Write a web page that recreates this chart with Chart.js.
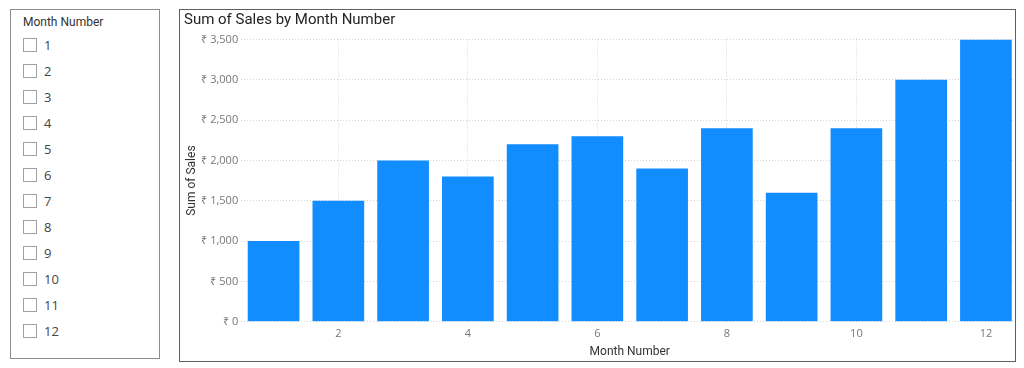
<!DOCTYPE html>
<html>
<head>
<meta charset="utf-8">
<script src="https://cdn.jsdelivr.net/npm/chart.js@4.4.0/dist/chart.umd.min.js"></script>
<style>
  html, body { margin: 0; padding: 0; background: #fff; }
  body { width: 1024px; height: 368px; position: relative; overflow: hidden; }
  #slicer { position: absolute; left: 10px; top: 9px; width: 148px; height: 348px; border: 1px solid #8c8c8c; font-family: "Open Sans", "Noto Sans", sans-serif; color: #252423; }
  #slicer .hdr { position: absolute; left: 12px; top: 5px; font-family: Roboto, sans-serif; font-size: 12px; color: #333; }
  #slicer .item { position: absolute; left: 12px; height: 16px; font-size: 13px; line-height: 16px; color: #444; }
  #slicer .box { position: absolute; left: 0; top: 1px; width: 12px; height: 12px; border: 1px solid #a0a0a0; background: #fff; }
  #slicer .lbl { position: absolute; left: 21px; top: 0; }
  #chartbox { position: absolute; left: 179px; top: 9px; width: 835px; height: 351px; border: 1px solid #606060; overflow: hidden; }
  #title { position: absolute; left: 4px; top: 0px; font-family: Roboto, sans-serif; font-size: 15px; color: #252423; white-space: nowrap; }
  #cv { position: absolute; left: 0; top: 0; }
</style>
</head>
<body>
<div id="slicer"><div class="hdr">Month Number</div></div>
<div id="chartbox">
  <canvas id="cv" width="842" height="351"></canvas>
  <div id="title">Sum of Sales by Month Number</div>
</div>
<script>
const months = ['1','2','3','4','5','6','7','8','9','10','11','12'];
const sales = [1000, 1500, 2000, 1800, 2200, 2300, 1900, 2400, 1600, 2400, 3000, 3500];
const yTickValues = [0, 500, 1000, 1500, 2000, 2500, 3000, 3500];
const currency = '₹';
const xTitle = 'Month Number';
const yTitle = 'Sum of Sales';

// slicer items
const slicer = document.getElementById('slicer');
months.forEach((m, i) => {
  const d = document.createElement('div');
  d.className = 'item';
  d.style.top = (27 + i * 26) + 'px';
  d.innerHTML = '<div class="box"></div><div class="lbl"></div>';
  d.querySelector('.lbl').textContent = m;
  slicer.appendChild(d);
});

const fmt = v => currency + ' ' + Number(v).toLocaleString('en-US');

new Chart(document.getElementById('cv'), {
  type: 'bar',
  data: {
    labels: months,
    datasets: [{
      label: yTitle,
      data: sales,
      backgroundColor: '#118DFF',
      borderWidth: 0,
      categoryPercentage: 1,
      barPercentage: 0.798
    }]
  },
  options: {
    responsive: false,
    animation: false,
    events: [],
    layout: { padding: { left: 0, right: 3.7, top: 29.5, bottom: 0 } },
    plugins: { legend: { display: false }, tooltip: { enabled: false }, title: { display: false } },
    scales: {
      x: {
        offset: true,
        grid: {
          offset: false,
          drawTicks: false,
          color: ctx => (ctx.index % 2 === 1 ? 'rgba(0,0,0,0.16)' : 'rgba(0,0,0,0)'),
          lineWidth: 1
        },
        border: { display: false, dash: [1, 2] },
        ticks: {
          autoSkip: false,
          maxRotation: 0,
          padding: 5.4,
          color: '#777',
          font: { family: '"Open Sans", sans-serif', size: 11 },
          callback: (v, i) => (i % 2 === 1 ? months[i] : '')
        },
        title: { display: true, text: xTitle, color: '#333', font: { family: 'Roboto, sans-serif', size: 12, lineHeight: 1 }, padding: { top: -0.2, bottom: 3.5 } }
      },
      y: {
        min: 0,
        max: 3500,
        afterBuildTicks: s => { s.ticks = yTickValues.map(v => ({ value: v })); },
        afterFit: s => { s.width = 61.2; },
        grid: { drawTicks: false, color: 'rgba(0,0,0,0.16)', lineWidth: 1 },
        border: { display: false, dash: [1, 2] },
        ticks: {
          padding: 3,
          color: '#777',
          font: { family: '"Open Sans", sans-serif', size: 11 },
          callback: v => fmt(v)
        },
        title: { display: true, text: yTitle, color: '#333', font: { family: 'Roboto, sans-serif', size: 12 }, padding: { top: 5, bottom: 0 } }
      }
    }
  }
});
</script>
</body>
</html>
